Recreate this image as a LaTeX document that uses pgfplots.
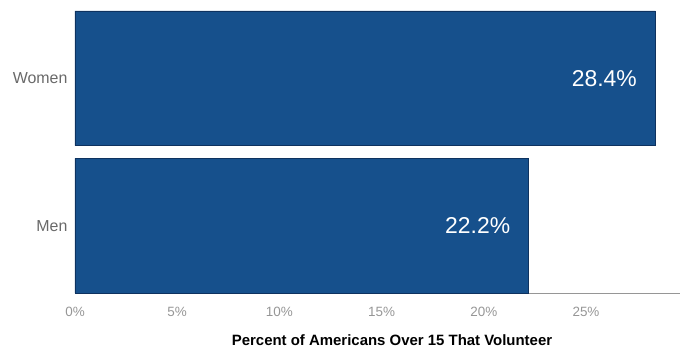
\documentclass[border=0pt]{standalone}
\usepackage{pgfplots}
\pgfplotsset{compat=1.18}
\usepackage{fontspec}
\setmainfont{Liberation Sans}
\definecolor{barblue}{RGB}{22,80,140}
\definecolor{bardark}{RGB}{14,50,95}
\definecolor{catgray}{RGB}{105,105,105}
\definecolor{tickgray}{RGB}{150,150,150}
\begin{document}
\begin{tikzpicture}
\begin{axis}[
  at={(0,0)}, anchor=south west,
  scale only axis,
  width=605bp, height=282bp,
  xbar, bar width=0.915,
  xmin=0, xmax=29.6,
  ymin=-0.4575, ymax=1.4575,
  axis y line*=left,
  y axis line style={draw=none},
  axis x line*=bottom,
  x axis line style={-, draw=tickgray, line width=0.6bp},
  xtick={0,5,10,15,20,25},
  xticklabels={0\%,5\%,10\%,15\%,20\%,25\%},
  major tick length=0pt,
  xticklabel style={font=\fontsize{13.5}{15}\selectfont, text=tickgray, yshift=-11bp},
  ytick={0,1},
  yticklabels={Men,Women},
  yticklabel style={font=\fontsize{16}{18}\selectfont, text=catgray, xshift=-4bp},
  /pgf/number format/assume math mode=true,
  xlabel={\textbf{Percent of Americans Over 15 That Volunteer}},
  xlabel style={at={(axis description cs:0.524,0)}, anchor=center, yshift=-47bp, font=\fontsize{15}{17}\selectfont},
  nodes near coords={\pgfmathprintnumber[fixed,precision=1,fixed zerofill]{\pgfplotspointmeta}\%},
  every node near coord/.append style={anchor=east, xshift=-15bp, text=white, font=\fontsize{23}{25}\selectfont},
  clip=false,
]
\addplot[fill=barblue, draw=bardark, line width=0.6bp] coordinates {(22.2,0) (28.4,1)};
\end{axis}
\pgfresetboundingbox
\useasboundingbox (-75bp,-56bp) rectangle (607bp,293bp);
\end{tikzpicture}
\end{document}
